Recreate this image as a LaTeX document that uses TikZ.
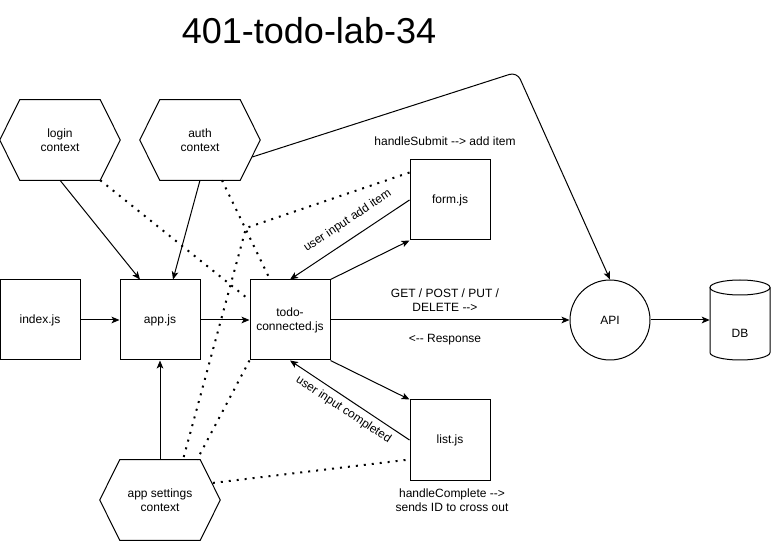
\documentclass[tikz,border=0pt]{standalone}
\usepackage{fontspec}
\setmainfont{Liberation Sans}
\usetikzlibrary{calc,arrows.meta}

\tikzset{
  box/.style={draw, line width=0.75pt, minimum width=60pt, minimum height=60pt, inner sep=0pt, align=center},
  hexa/.style={minimum width=90pt, minimum height=60pt, inner sep=0pt, align=center},
  link/.style={line width=0.75pt, -{Stealth[length=6pt,width=5pt,inset=1.5pt]}},
  dotline/.style={line width=1.5pt, dash pattern=on 1.5pt off 4.5pt},
  tag/.style={font=\fontsize{9}{10.5}\selectfont, inner sep=1pt, align=center}
}

\begin{document}
\begin{tikzpicture}[x=0.75pt, y=-0.75pt, every node/.style={font=\fontsize{9}{10.5}\selectfont}]
            \useasboundingbox (0,0) rectangle (771,541);

            \node[font=\fontsize{27}{30}\selectfont] (title) at (309,31) {401-todo-lab-34};

            % contexts
            \node[hexa] (login) at (60,140) {login\\context};
            \node[hexa] (auth) at (200,140) {auth\\context};
            \node[hexa] (appset) at (160,500) {app settings\\context};
            \foreach \h in {login,auth,appset}
                \draw[line width=0.75pt] (\h.west) -- ($(\h.north west)+(20,0)$) -- ($(\h.north east)+(-20,0)$)
                    -- (\h.east) -- ($(\h.south east)+(-20,0)$) -- ($(\h.south west)+(20,0)$) -- cycle;

            % components
            \node[box] (index) at (40,320) {index.js};
            \node[box] (app) at (160,320) {app.js};
            \node[box] (todo) at (290,320) {todo-\\connected.js};
            \node[box] (form) at (450,200) {form.js};
            \node[box] (list) at (450,440) {list.js};
            \node[draw, circle, line width=0.75pt, minimum size=60pt, inner sep=0pt] (api) at (610,320) {API};
            \node[minimum width=45pt, minimum height=60pt, inner sep=0pt] (db) at (740,320) {};
            \draw[line width=0.75pt] (710,287.5) -- (710,352.5) arc[start angle=180, end angle=0, x radius=30, y radius=7.5] -- (770,287.5);
            \draw[line width=0.75pt] (740,287.5) ellipse [x radius=30, y radius=7.5];
            \node (dbtext) at ($(db)+(0,13)$) {DB};

            \node[tag] (submit) at (445,141) {handleSubmit -{}-> add item};
            \node[tag] (verbs) at (445,300) {GET / POST / PUT /\\DELETE -{}->};
            \node[tag] (resp) at (445,340) {<-{}- Response};
            \node[tag] (complete) at (452,500) {handleComplete -{}->\\sends ID to cross out};

            % arrows
            \draw[link] (index) -- (app);
            \draw[link] (app) -- (todo);
            \draw[link] (login.south) -- ($(app.north)+(-20,0)$);
            \draw[link] (auth.south) -- ($(app.north)+(13,0)$);
            \draw[link] (appset.north) -- (app.south);
            \draw[link] (todo) -- (api);
            \draw[link] (api) -- (db);
            \coordinate (bend) at (517,72);
            \draw[link, rounded corners=6pt] ($(auth.east)+(-8,17)$) -- (bend) -- (api.north);
            \draw[link] (form.west) -- node[tag, sloped, above=7pt, pos=0.44] {user input add item} (todo.north);
            \draw[link] (todo.north east) -- (form.south west);
            \draw[link] (todo.south east) -- (list.north west);
            \draw[link] (list.west) -- node[tag, sloped, below=3pt] {user input completed} (todo.south);

            % dotted
            \draw[dotline] ($(login.south east)+(-20,0)$) -- ($(todo.west)+(0,-20)$);
            \draw[dotline] ($(auth.south)+(22,0)$) -- ($(todo.north)+(-20,0)$);
            \coordinate (kink) at (246,228);
            \draw[dotline] ($(form.north west)+(0,13)$) -- (kink) -- ($(appset.north)+(23,0)$);
            \draw[dotline] (todo.south west) -- ($(appset.north)+(37,0)$);
            \draw[dotline] ($(list.west)+(-4,20)$) -- ($(appset.east)+(-8,-17)$);
        \end{tikzpicture}
\end{document}
